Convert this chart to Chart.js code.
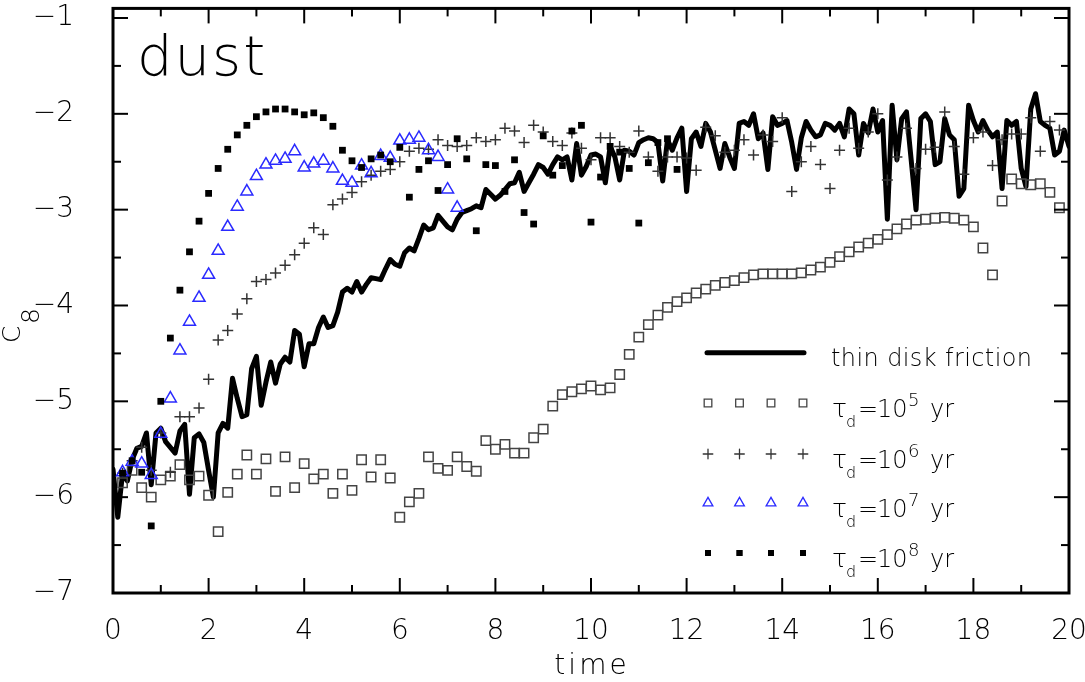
<!DOCTYPE html>
<html><head><meta charset="utf-8">
<script src="https://cdn.jsdelivr.net/npm/chart.js@4.4.1/dist/chart.umd.min.js"></script>
<style>html,body{margin:0;padding:0;background:#fff;}#wrap{width:1085px;height:682px;}</style>
</head><body><div id="wrap"><canvas id="c" width="1085" height="682"></canvas></div>
<script>
// ---- data ----
const xTicks = [0,2,4,6,8,10,12,14,16,18,20];
const xMinor = [1,3,5,7,9,11,13,15,17,19];
const yTicks = [-7,-6,-5,-4,-3,-2,-1];
const yMinor = [-6.5,-5.5,-4.5,-3.5,-2.5,-1.5];

const lineStart = 0, lineStep = 0.1;   // thin disk friction, sampled every 0.1
const lineY = [
-5.71,-6.21,-5.75,-5.83,-5.61,-5.49,-5.47,-5.33,-5.87,-5.33,
-5.28,-5.42,-5.48,-5.54,-5.31,-5.24,-5.97,-5.38,-5.34,-5.43,
-5.72,-6.00,-5.33,-5.23,-5.28,-4.76,-4.97,-5.16,-5.14,-4.66,
-4.53,-5.04,-4.80,-4.59,-4.81,-4.61,-4.54,-4.59,-4.26,-4.30,
-4.64,-4.40,-4.40,-4.23,-4.12,-4.23,-4.21,-4.07,-3.86,-3.82,
-3.86,-3.75,-3.86,-3.78,-3.71,-3.72,-3.73,-3.62,-3.52,-3.57,
-3.59,-3.45,-3.40,-3.43,-3.30,-3.16,-3.21,-3.19,-3.06,-3.12,
-3.18,-3.21,-3.10,-3.03,-3.01,-2.99,-2.96,-2.98,-2.79,-2.84,
-2.89,-2.85,-2.79,-2.73,-2.72,-2.61,-2.81,-2.72,-2.63,-2.53,
-2.56,-2.63,-2.53,-2.45,-2.48,-2.45,-2.69,-2.31,-2.64,-2.55,
-2.43,-2.42,-2.45,-2.72,-2.34,-2.45,-2.69,-2.38,-2.39,-2.43,
-2.30,-2.27,-2.25,-2.26,-2.30,-2.70,-2.27,-2.38,-2.25,-2.15,
-2.81,-2.26,-2.19,-2.34,-2.10,-2.19,-2.38,-2.57,-2.31,-2.45,
-2.57,-2.10,-2.08,-2.12,-2.00,-2.26,-2.20,-2.58,-2.03,-2.12,
-2.10,-2.07,-2.30,-2.58,-2.25,-2.08,-2.17,-2.24,-2.22,-2.10,
-2.12,-2.17,-2.10,-2.24,-1.95,-2.00,-2.43,-2.10,-2.20,-1.95,
-2.19,-2.07,-3.10,-1.91,-2.48,-2.05,-1.98,-2.49,-3.00,-2.05,
-2.00,-2.08,-2.53,-2.50,-2.05,-2.22,-2.27,-2.86,-2.78,-1.91,
-2.07,-2.19,-2.07,-2.17,-2.24,-2.19,-2.78,-2.07,-2.12,-2.08,
-2.57,-2.76,-1.95,-1.79,-2.08,-2.12,-2.15,-2.43,-2.39,-2.17,
-2.34];

const markStart = 0.2, markStep = 0.2;   // marker series sampled every 0.2
const tau5Y = [
-5.85,-5.72,-5.90,-6.00,-5.82,-5.78,-5.66,-5.82,-5.78,
-5.98,-6.36,-5.95,-5.76,-5.56,-5.76,-5.60,-5.94,-5.58,-5.90,
-5.65,-5.81,-5.76,-5.96,-5.76,-5.93,-5.61,-5.79,-5.61,-5.80,
-6.21,-6.05,-5.96,-5.58,-5.70,-5.72,-5.58,-5.68,-5.73,-5.41,
-5.50,-5.45,-5.54,-5.54,-5.38,-5.29,-5.05,-4.93,-4.90,-4.87,
-4.84,-4.88,-4.86,-4.72,-4.51,-4.33,-4.20,-4.10,-4.02,-3.96,
-3.92,-3.87,-3.83,-3.79,-3.76,-3.74,-3.71,-3.68,-3.67,-3.67,
-3.67,-3.67,-3.66,-3.63,-3.60,-3.55,-3.49,-3.44,-3.39,-3.35,
-3.31,-3.26,-3.20,-3.15,-3.11,-3.10,-3.09,-3.08,-3.09,-3.11,
-3.18,-3.40,-3.68,-2.91,-2.68,-2.73,-2.74,-2.73,-2.82,-2.98];
const tau6Y = [
-5.75,-5.62,-5.48,-5.72,-5.33,-5.74,-5.16,-5.16,-5.07,
-4.77,-4.36,-4.26,-4.09,-3.93,-3.75,-3.73,-3.66,-3.58,-3.47,
-3.35,-3.19,-3.26,-2.95,-2.89,-2.82,-2.71,-2.64,-2.60,-2.58,
-2.50,-2.39,-2.36,-2.37,-2.27,-2.33,-2.34,-2.33,-2.25,-2.29,
-2.27,-2.15,-2.18,-2.30,-2.12,-2.19,-2.29,-2.33,-2.20,-2.36,
-2.48,-2.25,-2.25,-2.34,-2.40,-2.18,-2.45,-2.60,-2.45,-2.45,
-2.46,-2.59,-2.14,-2.23,-2.40,-2.38,-2.27,-2.43,-2.22,-2.29,
-2.04,-2.81,-2.50,-2.34,-2.53,-2.78,-2.38,-2.15,-2.36,-2.19,
-2.00,-2.69,-2.45,-2.15,-2.57,-2.37,-2.35,-1.98,-2.34,-2.63,
-2.25,-2.19,-2.54,-2.27,-2.21,-2.21,-2.04,-2.39,-2.08,-2.17];
const tau7Y = [
-5.74,-5.63,-5.65,-5.77,-5.34,-4.97,-4.47,-4.17,-3.92,
-3.68,-3.43,-3.18,-2.97,-2.81,-2.65,-2.53,-2.49,-2.47,-2.39,
-2.56,-2.52,-2.49,-2.57,-2.70,-2.72,-2.54,-2.62,-2.44,-2.46,
-2.28,-2.27,-2.25,-2.38,-2.45,-2.79,-2.98];
const tau8Y = [
-5.75,-5.62,-5.74,-6.30,-5.00,-4.34,-3.84,-3.44,-3.12,
-2.83,-2.57,-2.37,-2.22,-2.12,-2.03,-1.98,-1.95,-1.95,-1.98,
-2.01,-1.99,-2.04,-2.13,-2.38,-2.49,-2.56,-2.47,-2.43,-2.50,
-2.35,-2.87,-2.58,-2.49,-2.80,-2.53,-2.26,-2.47,-3.22,-2.53,
-2.54,-2.81,-2.48,-3.03,-3.15,-2.23,-2.64,-2.54,-2.18,-2.12,
-3.13,-2.66,-2.34,-2.40,-2.57,-3.14,-2.51,-2.30,-2.26,-2.58];

const legendLabels = ['thin disk friction', '5', '6', '7', '8'];

// ---- helpers ----
const pts = (ys, t0, dt) => ys.map((v, i) => ({x: +(t0 + i * dt).toFixed(2), y: v}));
const FONT = "'DejaVu Sans', sans-serif";
const W = '200';
const BLUE = '#2a2aff';
const GREY = '#444';

const styles = {
  sq:   {pointStyle:'rect', radius:6.6, border:GREY, fill:'rgba(0,0,0,0)', bw:1.5},
  plus: {pointStyle:'cross', radius:5.5, border:'#333', fill:'rgba(0,0,0,0)', bw:1.5},
  tri:  {pointStyle:'triangle', radius:6.9, border:BLUE, fill:'rgba(0,0,0,0)', bw:1.5},
  fill: {pointStyle:'rect', radius:4.8, border:'#000', fill:'#000', bw:0}
};
function markerDS(label, data, s, order){
  return {label, data, showLine:false, pointStyle:s.pointStyle, pointRadius:s.radius,
    pointHoverRadius:s.radius, pointBorderColor:s.border, pointBackgroundColor:s.fill,
    pointBorderWidth:s.bw, order, clip:false};
}

const framePlugin = {
  id:'frame',
  afterDraw(chart){
    const {ctx, chartArea:a, scales:{x, y}} = chart;
    ctx.save();
    ctx.strokeStyle = '#000';
    ctx.lineCap = 'butt';
    const seg = (x1,y1,x2,y2)=>{ctx.beginPath();ctx.moveTo(x1,y1);ctx.lineTo(x2,y2);ctx.stroke();};
    ctx.lineWidth = 2;
    const drawX = (vals,len)=>vals.forEach(v=>{const p=x.getPixelForValue(v);seg(p,a.bottom,p,a.bottom-len);seg(p,a.top,p,a.top+len);});
    const drawY = (vals,len)=>vals.forEach(v=>{const p=y.getPixelForValue(v);seg(a.left,p,a.left+len,p);seg(a.right,p,a.right-len,p);});
    drawX(xTicks,15); drawX(xMinor,8); drawY(yTicks,15); drawY(yMinor,8);
    ctx.lineWidth = 3;
    ctx.strokeRect(a.left, a.top, a.right-a.left, a.bottom-a.top);

    ctx.fillStyle = '#000';
    ctx.textBaseline='alphabetic';
    // x title
    ctx.font = W+' 28px '+FONT;
    ctx.textAlign='center';
    ctx.letterSpacing = '3px';
    ctx.fillText('time', (a.left+a.right)/2 + 1, 674);
    ctx.letterSpacing = '0px';
    // y title C_8 (rotated)
    ctx.save();
    ctx.translate(20, 343); ctx.rotate(-Math.PI/2);
    ctx.textAlign='left';
    ctx.font = W+' 25px '+FONT; ctx.fillText('C', 0, 0);
    ctx.font = W+' 25px '+FONT; ctx.fillText('8', 19, 19);
    ctx.restore();
    // panel label
    ctx.font = W+' 56px '+FONT; ctx.textAlign='left';
    ctx.letterSpacing = '2px';
    ctx.fillText('dust', 137, 75);
    ctx.letterSpacing = '0px';

    // legend
    const lx = [708, 739.5, 771, 803];
    const rows = [403, 454, 503, 553];
    ctx.lineWidth = 5; ctx.lineCap='round';
    seg(707, 352.7, 804, 352.7);
    ctx.font = W+' 24px '+FONT; ctx.textAlign='left';
    ctx.letterSpacing = '0.4px';
    ctx.fillText(legendLabels[0], 831, 366);
    ctx.letterSpacing = '0px';
    const legStyles = [
      {pointStyle:'rect', radius:5.4, border:GREY, fill:null, bw:1.3},
      {pointStyle:'cross', radius:4.8, border:'#333', fill:null, bw:1.3},
      {pointStyle:'triangle', radius:5.6, border:BLUE, fill:null, bw:1.3},
      {pointStyle:'rect', radius:4.2, border:'#000', fill:'#000', bw:0}
    ];
    legStyles.forEach((s, r)=>{
      lx.forEach(px=>{
        ctx.strokeStyle = s.border; ctx.fillStyle = s.fill || 'rgba(0,0,0,0)';
        ctx.lineWidth = s.bw || 0.01;
        Chart.helpers.drawPoint(ctx, {pointStyle:s.pointStyle, radius:s.radius, rotation:0, borderWidth:s.bw}, px, rows[r]);
        if (s.fill){ ctx.fill(); }
      });
      const base = rows[r] + 14;
      ctx.fillStyle = '#000';
      ctx.font = W+' 25px '+FONT; ctx.fillText('τ', 832, base);
      ctx.font = W+' 16px '+FONT; ctx.fillText('d', 846, base + 10);
      ctx.font = W+' 24px '+FONT; ctx.fillText('=', 858, base);
      ctx.fillText('10', 877, base);
      ctx.font = W+' 18px '+FONT; ctx.fillText(legendLabels[r+1], 908, base - 11);
      ctx.font = W+' 24px '+FONT; ctx.fillText('yr', 930, base);
    });
    ctx.restore();
  }
};

new Chart(document.getElementById('c'), {
  type:'line',
  data:{datasets:[
    {label:'thin disk friction', data:pts(lineY, lineStart, lineStep), borderColor:'#000', borderWidth:5,
     pointRadius:0, tension:0, fill:false, borderJoinStyle:'round', borderCapStyle:'round', order:5},
    markerDS('τd=10^5 yr', pts(tau5Y, markStart, markStep), styles.sq, 4),
    markerDS('τd=10^6 yr', pts(tau6Y, markStart, markStep), styles.plus, 3),
    markerDS('τd=10^7 yr', pts(tau7Y, markStart, markStep), styles.tri, 2),
    markerDS('τd=10^8 yr', pts(tau8Y, markStart, markStep), styles.fill, 1)
  ]},
  options:{
    responsive:false, animation:false, devicePixelRatio:1,
    layout:{padding:{left:0, top:4, right:16, bottom:0}},
    plugins:{legend:{display:false}, tooltip:{enabled:false}},
    scales:{
      x:{type:'linear', min:0, max:20,
        afterBuildTicks:s=>{s.ticks = xTicks.map(v=>({value:v}));},
        afterFit:s=>{s.height = 89; s.paddingLeft = 0; s.paddingRight = 0; s.paddingTop = 0; s.paddingBottom = 0;},
        grid:{display:false}, border:{display:false},
        ticks:{font:{family:FONT, size:28, weight:W}, color:'#000', padding:14, maxRotation:0, autoSkip:false}},
      y:{type:'linear', min:-7, max:-0.9,
        afterBuildTicks:s=>{s.ticks = yTicks.map(v=>({value:v}));},
        afterFit:s=>{s.width = 113; s.paddingTop = 0; s.paddingBottom = 0; s.paddingLeft = 0; s.paddingRight = 0;},
        grid:{display:false}, border:{display:false},
        ticks:{font:{family:FONT, size:28, weight:W}, color:'#000', padding:31, autoSkip:false,
          callback:v=> v<0 ? '\u2212'+Math.abs(v) : String(v)}}
    }
  },
  plugins:[framePlugin]
});
</script></body></html>
